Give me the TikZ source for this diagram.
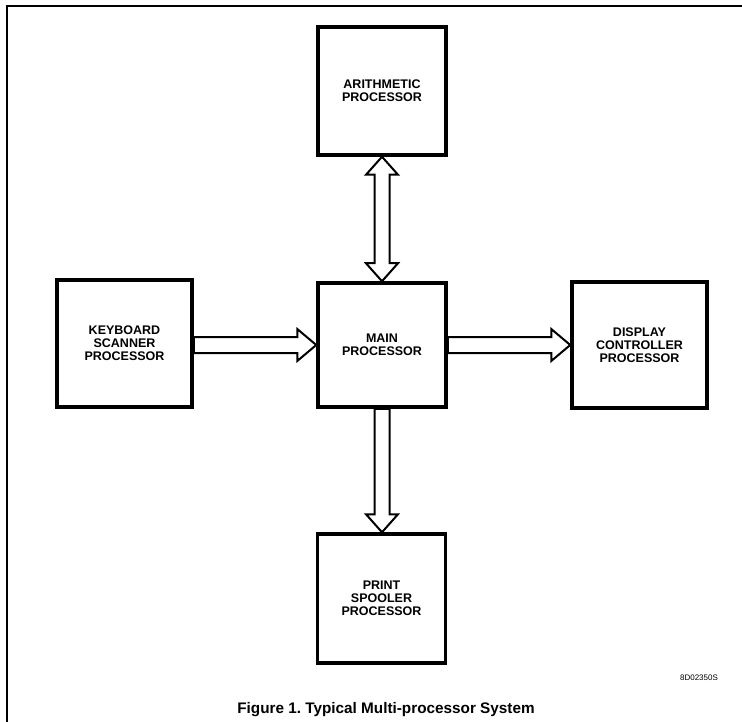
\documentclass[tikz,border=0pt]{standalone}
\usepackage{fontspec}
\setmainfont{Liberation Sans}
\usetikzlibrary{calc}
\tikzset{
  procbox/.style={draw, line width=3.5pt, fill=white, align=center,
    font=\fontsize{12.5}{13}\selectfont\bfseries, inner sep=0pt},
  hollow/.style={draw, line width=2pt, fill=white, line join=miter},
  frameline/.style={line width=1.6pt}
}
\newcommand\rarrow[2]{%
  \draw[hollow] let \p1=(#1), \p2=(#2) in
    ({\x1},{\y1+8pt}) -- ({\x2-19pt},{\y1+8pt}) -- ({\x2-19pt},{\y1+16pt})
    -- ({\x2},{\y1}) -- ({\x2-19pt},{\y1-16pt}) -- ({\x2-19pt},{\y1-8pt})
    -- ({\x1},{\y1-8pt}) -- cycle;}
\newcommand\darrow[2]{%
  \draw[hollow] let \p1=(#1), \p2=(#2) in
    ({\x1-7.5pt},{\y1}) -- ({\x1-7.5pt},{\y2+18pt}) -- ({\x1-16pt},{\y2+18pt})
    -- ({\x1},{\y2}) -- ({\x1+16pt},{\y2+18pt}) -- ({\x1+7.5pt},{\y2+18pt})
    -- ({\x1+7.5pt},{\y1}) -- cycle;}
\newcommand\bdarrow[2]{%
  \draw[hollow] let \p1=(#1), \p2=(#2) in
    ({\x1},{\y1}) -- ({\x1+16pt},{\y1-18pt}) -- ({\x1+7.5pt},{\y1-18pt})
    -- ({\x1+7.5pt},{\y2+18pt}) -- ({\x1+16pt},{\y2+18pt}) -- ({\x1},{\y2})
    -- ({\x1-16pt},{\y2+18pt}) -- ({\x1-7.5pt},{\y2+18pt})
    -- ({\x1-7.5pt},{\y1-18pt}) -- ({\x1-16pt},{\y1-18pt}) -- cycle;}
\begin{document}
\begin{tikzpicture}[x=1pt,y=-1pt]
\useasboundingbox (0,0) rectangle (742,722);
\draw[frameline] (7,722) -- (7,6) -- (742,6);

\node[procbox, minimum width=128pt, minimum height=128pt] (ar) at (382,91) {ARITHMETIC\\PROCESSOR};
\node[procbox, minimum width=128pt, minimum height=124pt] (mn) at (382,345) {MAIN\\PROCESSOR};
\node[procbox, minimum width=135pt, minimum height=127pt] (kb) at (124.5,343.5) {KEYBOARD\\SCANNER\\PROCESSOR};
\node[procbox, minimum width=135pt, minimum height=126pt] (dp) at (639.5,345) {DISPLAY\\CONTROLLER\\PROCESSOR};
\node[procbox, minimum width=128pt, minimum height=129pt] (pr) at (381.5,598.5) {PRINT\\SPOOLER\\PROCESSOR};

\bdarrow{ar.south}{mn.north}
\rarrow{kb.east |- mn.center}{mn.west}
\rarrow{mn.east}{dp.west |- mn.center}
\darrow{mn.south}{pr.north -| mn.south}

\node[font=\fontsize{8}{9}\selectfont] (code) at (699,678) {8D02350S};
\node[font=\fontsize{15.3}{17}\selectfont\bfseries] (cap) at (386,710) {Figure 1.\ Typical Multi-processor System};
\end{tikzpicture}
\end{document}
